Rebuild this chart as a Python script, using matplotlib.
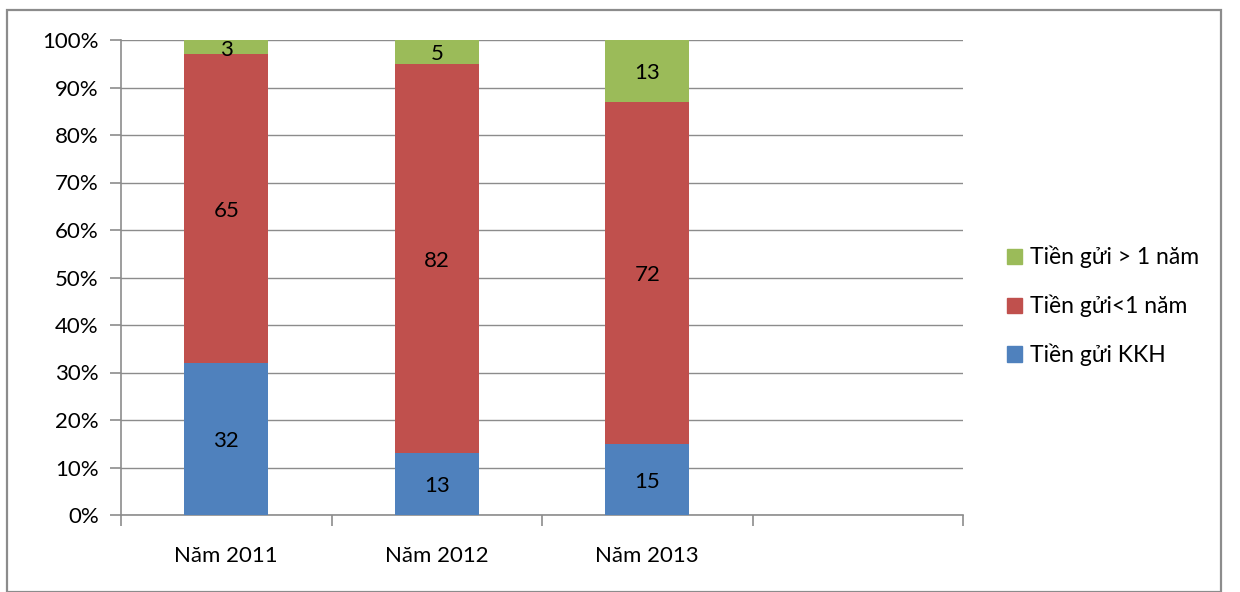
import matplotlib
matplotlib.use("Agg")
import matplotlib.pyplot as plt
from matplotlib.patches import Rectangle, Patch
import numpy as np

plt.rcParams['font.family'] = ['Lato', 'DejaVu Sans']

categories = ["Năm 2011", "Năm 2012", "Năm 2013", ""]
series_names = ["Tiền gửi KKH", "Tiền gửi<1 năm", "Tiền gửi > 1 năm"]
kkh = [32, 13, 15, None]
lt1 = [65, 82, 72, None]
gt1 = [3, 5, 13, None]
colors = ["#4F81BD", "#C0504D", "#9BBB59"]
y_ticks = [0, 10, 20, 30, 40, 50, 60, 70, 80, 90, 100]

FS = 16
W, H = 1240, 592
fig = plt.figure(figsize=(W/100, H/100), dpi=100)
ax = fig.add_axes([121/W, 1-515/H, (963-121)/W, (515-40)/H])

fig.patches.append(Rectangle((7/W, 0), (1221-7)/W, (592-10)/H, transform=fig.transFigure,
                             fill=False, edgecolor="#8c8c8c", linewidth=1.6))

data = [kkh, lt1, gt1]
n = 3
x = np.arange(n)
bottom = np.zeros(n)
for vals, c in zip(data, colors):
    v = np.array(vals[:n], dtype=float)
    ax.bar(x, v, 0.4, bottom=bottom, color=c, zorder=3)
    for xi, b, vi in zip(x, bottom, v):
        ax.text(xi, b + vi/2 - 0.5, f"{int(vi)}", ha="center", va="center", fontsize=FS, zorder=4)
    bottom += v

ax.set_xlim(-0.5, len(categories) - 0.5)
ax.set_ylim(0, 100)
ax.set_yticks(y_ticks)
ax.set_yticklabels([f"{t}%" for t in y_ticks], fontsize=FS)
ax.set_xticks(np.arange(len(categories)))
ax.set_xticklabels(categories, fontsize=FS)
ax.set_xticks(np.arange(len(categories) + 1) - 0.5, minor=True)
ax.tick_params(axis="x", which="major", length=0, pad=22)
ax.tick_params(axis="x", which="minor", length=8, color="#8c8c8c", width=1.2)
ax.tick_params(axis="y", length=8, color="#8c8c8c", width=1.2, pad=8)
ax.grid(axis="y", color="#8c8c8c", linewidth=1.0, zorder=0)
for s in ["top", "right"]:
    ax.spines[s].set_visible(False)
for s in ["left", "bottom"]:
    ax.spines[s].set_color("#8c8c8c")
    ax.spines[s].set_linewidth(1.2)

handles = [Patch(color=colors[i], label=series_names[i]) for i in [2, 1, 0]]
fig.legend(handles=handles, loc="center left", bbox_to_anchor=(986/W, 1-306/H),
           frameon=False, fontsize=FS + 0.5, handlelength=0.65, handleheight=0.65,
           handletextpad=0.35, labelspacing=1.15)

fig.savefig("out.png", dpi=100)
